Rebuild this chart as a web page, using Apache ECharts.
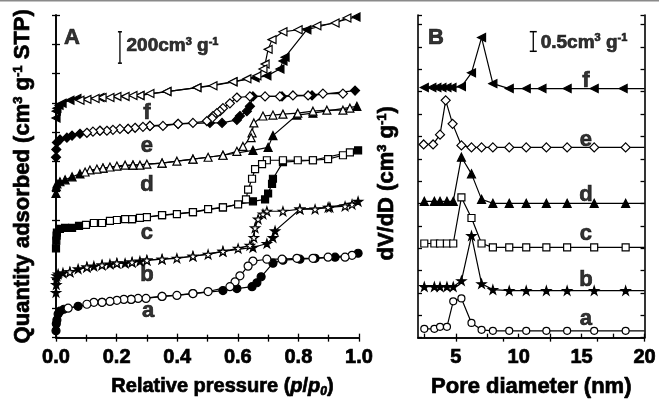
<!DOCTYPE html>
<html>
<head>
<meta charset="utf-8">
<script src="https://cdn.jsdelivr.net/npm/echarts@6/dist/echarts.min.js"></script>
<style>
  html, body { margin: 0; padding: 0; background: #fff; }
  #chart { width: 659px; height: 403px; }
</style>
</head>
<body>
<div id="chart"></div>
<script>
// ---- panel A : N2 isotherms, [p/p0, quantity adsorbed (cm3/g, curves offset)]
const aAds = [[0,44],[0.001,88],[0.003,113],[0.007,150],[0.013,169],[0.026,181],[0.073,200],[0.152,225],[0.248,244],[0.35,263],[0.452,281],[0.551,300],[0.597,313],[0.647,325],[0.663,350],[0.677,388],[0.716,475],[0.749,494],[0.805,500],[0.855,506],[0.921,513],[0.997,538]];
const aDes = [[0.977,525],[0.954,513],[0.898,513],[0.848,506],[0.795,506],[0.746,500],[0.696,500],[0.65,488],[0.634,456],[0.607,394],[0.591,356],[0.574,325],[0.502,294],[0.452,281],[0.399,269],[0.35,263],[0.297,250],[0.271,250],[0.248,244],[0.224,244],[0.201,238],[0.178,231],[0.152,225],[0.125,225],[0.102,213],[0.04,188]];
const bAds = [[0,288],[0.001,338],[0.002,375],[0.003,394],[0.007,406],[0.023,413],[0.046,419],[0.073,438],[0.102,450],[0.125,456],[0.152,463],[0.178,469],[0.201,475],[0.228,475],[0.251,481],[0.277,488],[0.3,494],[0.35,500],[0.452,519],[0.551,550],[0.65,575],[0.696,600],[0.716,638],[0.723,681],[0.805,819],[0.904,831],[0.997,869]];
const bDes = [[0.977,850],[0.954,838],[0.898,831],[0.855,819],[0.805,819],[0.749,806],[0.696,806],[0.683,788],[0.667,756],[0.657,700],[0.653,638],[0.64,588],[0.601,569],[0.551,550],[0.502,531],[0.452,519],[0.399,506],[0.35,500],[0.3,494],[0.251,481],[0.201,475],[0.152,463],[0.102,450],[0.046,419]];
const cAds = [[0,569],[0.001,619],[0.002,650],[0.003,669],[0.013,694],[0.03,700],[0.053,700],[0.076,713],[0.152,731],[0.251,756],[0.35,781],[0.452,800],[0.551,831],[0.65,869],[0.69,881],[0.7,919],[0.713,981],[0.716,1013],[0.749,1119],[0.848,1131],[0.997,1194]];
const cDes = [[0.97,1181],[0.947,1163],[0.898,1138],[0.848,1131],[0.798,1131],[0.749,1131],[0.696,1131],[0.68,1106],[0.657,1075],[0.647,1013],[0.634,944],[0.627,881],[0.601,850],[0.551,831],[0.502,819],[0.452,800],[0.399,788],[0.35,781],[0.3,769],[0.277,763],[0.251,756],[0.228,756],[0.201,750],[0.178,744],[0.152,731],[0.125,731],[0.099,719]];
const dAds = [[0,919],[0.001,963],[0.003,981],[0.013,994],[0.03,1006],[0.053,1025],[0.079,1044],[0.155,1081],[0.254,1100],[0.35,1113],[0.452,1138],[0.551,1163],[0.65,1194],[0.7,1213],[0.716,1288],[0.795,1419],[0.848,1431],[0.993,1475]];
const dDes = [[0.97,1463],[0.947,1450],[0.894,1450],[0.848,1444],[0.798,1431],[0.749,1425],[0.716,1419],[0.683,1413],[0.653,1369],[0.647,1306],[0.644,1275],[0.617,1219],[0.597,1188],[0.551,1163],[0.502,1150],[0.452,1138],[0.399,1125],[0.35,1113],[0.3,1106],[0.277,1100],[0.254,1100],[0.228,1100],[0.201,1094],[0.178,1088],[0.155,1081],[0.135,1075],[0.112,1069],[0.096,1056]];
const eAds = [[0,1150],[0.001,1200],[0.003,1244],[0.013,1263],[0.036,1275],[0.053,1288],[0.079,1300],[0.145,1319],[0.238,1331],[0.31,1350],[0.403,1363],[0.508,1369],[0.548,1369],[0.597,1388],[0.607,1413],[0.63,1444],[0.64,1475],[0.65,1538],[0.746,1538],[0.845,1544],[0.987,1575]];
const eDes = [[0.947,1556],[0.881,1556],[0.832,1544],[0.782,1544],[0.739,1538],[0.69,1538],[0.64,1538],[0.597,1531],[0.574,1494],[0.551,1463],[0.541,1444],[0.531,1431],[0.518,1413],[0.515,1400],[0.498,1381],[0.452,1369],[0.403,1363],[0.353,1350],[0.31,1350],[0.287,1344],[0.261,1338],[0.238,1331],[0.211,1331],[0.188,1325],[0.168,1319],[0.145,1319],[0.122,1313],[0.102,1306]];
const fAds = [[0,1400],[0.001,1444],[0.003,1463],[0.01,1481],[0.02,1494],[0.046,1513],[0.069,1525],[0.145,1531],[0.277,1544],[0.366,1569],[0.465,1594],[0.584,1631],[0.657,1656],[0.696,1669],[0.739,1713],[0.749,1763],[0.756,1788],[0.828,1963],[0.99,2044]];
const fDes = [[0.96,2038],[0.921,2006],[0.861,1988],[0.799,1963],[0.749,1950],[0.713,1900],[0.7,1838],[0.69,1744],[0.683,1713],[0.663,1669],[0.63,1650],[0.584,1631],[0.518,1606],[0.465,1594],[0.366,1569],[0.31,1556],[0.277,1544],[0.254,1544],[0.228,1538],[0.201,1538],[0.178,1531],[0.152,1531],[0.129,1525],[0.102,1519],[0.079,1513]];

// ---- panel B : pore size distributions, dV/dD (cm3/g, curves offset)
const poreD  = [2.5, 3.3, 3.75, 4.3, 4.8, 5.45, 6.25, 7.05, 7.95, 9.25, 10.6, 12.2, 13.85, 16.0, 18.5];
const poreDe = [2.45, 3.2, 3.75, 4.2, 4.75, 5.45, 6.25, 7.05, 7.95, 9.25, 10.6, 12.2, 13.85, 16.0, 18.5];
const poreDf = [2.5, 3.1, 3.5, 3.9, 4.3, 4.7, 5.45, 6.25, 7.05, 7.95, 9.25, 10.6, 11.85, 13.85, 16.0, 18.3];
const psdA = [0.225,0.225,0.275,0.275,0.925,1.0,0.375,0.2,0.175,0.175,0.175,0.175,0.175,0.175,0.175];
const psdB = [1.3,1.3,1.3,1.3,1.3,1.45,2.6,1.375,1.225,1.2,1.2,1.2,1.2,1.2,1.2];
const psdC = [2.4,2.4,2.4,2.4,2.4,3.575,3.05,2.4,2.3,2.3,2.3,2.3,2.3,2.3,2.3];
const psdD = [3.475,3.475,3.475,3.475,3.475,4.6,4.175,3.525,3.425,3.425,3.425,3.425,3.425,3.425,3.425];
const psdE = [4.925,4.925,5.175,6.05,5.45,4.9,4.85,4.85,4.85,4.85,4.85,4.85,4.85,4.85,4.85];
const psdF = [6.375,6.375,6.375,6.375,6.375,6.375,6.4,6.75,7.65,6.475,6.35,6.35,6.35,6.35,6.35,6.35];

const curveNames = ['a', 'b', 'c', 'd', 'e', 'f'];
const labelPosA = [[0.304,169],[0.30,400],[0.30,669],[0.30,975],[0.30,1225],[0.30,1431]];
const labelPosB = [[15.34,0.475],[15.34,1.475],[15.34,2.65],[15.34,3.65],[15.34,5.05],[15.34,6.55]];

const FONT = 'Liberation Sans, Arial, Helvetica, sans-serif';
const STAR = 'path://M50,0 L61,35 L98,35 L68,57 L79,91 L50,70 L21,91 L32,57 L2,35 L39,35 Z';
const LTRI = 'path://M0,50 L100,0 L100,100 Z';
// heavier strokes on text, the original figure is printed very bold
const HEAVY = { textBorderColor: '#000', textBorderWidth: 0.7 };

const myChart = echarts.init(document.getElementById('chart'));

function mkLine(data, xi, yi, symbol, size, filled) {
  return {
    type: 'line', xAxisIndex: xi, yAxisIndex: yi, data: data,
    symbol: symbol, symbolSize: size, symbolKeepAspect: true,
    lineStyle: { color: '#000', width: 1.2 },
    itemStyle: { color: filled ? '#000' : '#fff', borderColor: '#000', borderWidth: 1.2 },
    z: filled ? 2 : 3, animation: false, silent: true
  };
}
function withEnd(xs, ys) {
  // last entry only carries the line to the right frame
  const d = xs.map((x, i) => [x, ys[i]]);
  d.push({ value: [20, ys[ys.length - 1]], symbol: 'none' });
  return d;
}
function textSeries(xi, yi, pts, texts, size) {
  return {
    type: 'scatter', xAxisIndex: xi, yAxisIndex: yi, symbolSize: 1,
    itemStyle: { color: 'rgba(0,0,0,0)' }, silent: true, animation: false, z: 5,
    data: pts.map((p, i) => ({ value: p, label: { formatter: texts[i] } })),
    label: Object.assign({ show: true, position: 'inside', color: '#000', fontFamily: FONT, fontWeight: 'bold', fontSize: size }, HEAVY)
  };
}
function supRich(size) {
  return {
    sup: Object.assign({ fontSize: Math.round(size * 0.6), fontWeight: 'bold', fontFamily: FONT, verticalAlign: 'top', padding: [0, 0, Math.round(size * 0.4), 0] }, HEAVY),
    sub: Object.assign({ fontSize: Math.round(size * 0.6), fontWeight: 'bold', fontFamily: FONT, fontStyle: 'italic', padding: [Math.round(size * 0.5), 0, 0, 0] }, HEAVY),
    it: Object.assign({ fontSize: size, fontWeight: 'bold', fontFamily: FONT, fontStyle: 'italic' }, HEAVY)
  };
}
const axLine = { lineStyle: { color: '#000', width: 1.6 } };
const tickIn = { inside: true, length: 4, lineStyle: { color: '#000', width: 1.3 } };
const tickLabel = Object.assign({ color: '#000', fontFamily: FONT, fontWeight: 'bold', fontSize: 20, margin: 10 }, HEAVY);
function nameStyle(size, pad) {
  return Object.assign({ color: '#000', fontFamily: FONT, fontWeight: 'bold', fontSize: size, rich: supRich(size), padding: pad || 0 }, HEAVY);
}

const option = {
  backgroundColor: '#fff',
  animation: false,
  grid: [
    { left: 56, right: 300, top: 15, bottom: 59 },
    { left: 418, right: 13, top: 15, bottom: 59 }
  ],
  xAxis: [
    { gridIndex: 0, type: 'value', min: 0, max: 1, interval: 0.2, position: 'bottom',
      axisLine: axLine, axisTick: tickIn, minorTick: { show: true, splitNumber: 2, length: 3, lineStyle: { color: '#000', width: 1.3 } },
      splitLine: { show: false }, minorSplitLine: { show: false },
      axisLabel: Object.assign({ formatter: v => v.toFixed(1) }, tickLabel),
      name: 'Relative pressure ({it|p}/{it|p}{sub|0})', nameLocation: 'middle', nameGap: 38,
      nameTextStyle: nameStyle(20, [0, 0, 0, 30]) },
    { gridIndex: 0, type: 'value', min: 0, max: 1, interval: 0.1, position: 'top',
      axisLine: axLine, axisTick: tickIn, axisLabel: { show: false }, splitLine: { show: false } },
    { gridIndex: 1, type: 'value', min: 2, max: 20, position: 'bottom',
      axisLine: axLine, axisTick: Object.assign({ customValues: [2.5, 5, 7.5, 10, 12.5, 15, 17.5, 20] }, tickIn),
      splitLine: { show: false },
      axisLabel: Object.assign({ customValues: [5, 10, 15, 20] }, tickLabel),
      name: 'Pore diameter (nm)', nameLocation: 'middle', nameGap: 38, nameTextStyle: nameStyle(22) },
    { gridIndex: 1, type: 'value', min: 2, max: 20, position: 'top',
      axisLine: axLine, axisTick: Object.assign({ customValues: [5, 8.75, 12.5, 16.25, 20] }, tickIn),
      axisLabel: { show: false }, splitLine: { show: false } }
  ],
  yAxis: [
    { gridIndex: 0, type: 'value', min: 0, max: 2057, interval: 187, position: 'left',
      axisLine: axLine, axisTick: tickIn, axisLabel: { show: false }, splitLine: { show: false },
      name: 'Quantity adsorbed (cm{sup|3} g{sup|-1} STP)', nameLocation: 'middle', nameRotate: 90, nameGap: 22,
      nameTextStyle: nameStyle(22) },
    { gridIndex: 0, type: 'value', min: 0, max: 2057, interval: 187, position: 'right',
      axisLine: axLine, axisTick: tickIn, axisLabel: { show: false }, splitLine: { show: false } },
    { gridIndex: 1, type: 'value', min: 0, max: 8.225, interval: 0.57, position: 'left',
      axisLine: axLine, axisTick: tickIn, axisLabel: { show: false }, splitLine: { show: false },
      name: 'dV/dD (cm{sup|3} g{sup|-1})', nameLocation: 'middle', nameRotate: 90, nameGap: 20,
      nameTextStyle: nameStyle(22, [0, 14, 0, 0]) },
    { gridIndex: 1, type: 'value', min: 0, max: 8.225, interval: 0.57, position: 'right',
      axisLine: axLine, axisTick: tickIn, axisLabel: { show: false }, splitLine: { show: false } }
  ],
  series: [
    mkLine(aAds, 0, 0, 'circle', 8, true),   mkLine(aDes, 0, 0, 'circle', 8, false),
    mkLine(bAds, 0, 0, STAR, 9, true),       mkLine(bDes, 0, 0, STAR, 9, false),
    mkLine(cAds, 0, 0, 'rect', 7, true),     mkLine(cDes, 0, 0, 'rect', 7, false),
    mkLine(dAds, 0, 0, 'triangle', 8, true), mkLine(dDes, 0, 0, 'triangle', 8, false),
    mkLine(eAds, 0, 0, 'diamond', 9, true),  mkLine(eDes, 0, 0, 'diamond', 9, false),
    mkLine(fAds, 0, 0, LTRI, 8, true),       mkLine(fDes, 0, 0, LTRI, 8, false),

    mkLine(withEnd(poreD, psdA), 2, 2, 'circle', 7, false),
    mkLine(withEnd(poreD, psdB), 2, 2, STAR, 9, true),
    mkLine(withEnd(poreD, psdC), 2, 2, 'rect', 7, false),
    mkLine(withEnd(poreD, psdD), 2, 2, 'triangle', 8, true),
    mkLine(withEnd(poreDe, psdE), 2, 2, 'diamond', 9, false),
    mkLine(withEnd(poreDf, psdF), 2, 2, LTRI, 8, true),

    // curve letters
    textSeries(0, 0, labelPosA, curveNames, 22),
    textSeries(2, 2, labelPosB, curveNames, 22),
    // panel letters
    textSeries(0, 0, [[0.053, 1913]], ['A'], 22),
    textSeries(2, 2, [[3.42, 7.65]], ['B'], 22),
    // scale bars
    { type: 'line', xAxisIndex: 0, yAxisIndex: 0, data: [[0.211, 1750], [0.211, 1950]],
      symbol: 'rect', symbolSize: [4, 1.5], lineStyle: { color: '#000', width: 1.3 }, itemStyle: { color: '#000' }, animation: false, silent: true },
    { type: 'line', xAxisIndex: 2, yAxisIndex: 2, data: [[11.16, 7.3], [11.16, 7.8]],
      symbol: 'rect', symbolSize: [7, 1.5], lineStyle: { color: '#000', width: 1.3 }, itemStyle: { color: '#000' }, animation: false, silent: true },
    {
      type: 'scatter', xAxisIndex: 0, yAxisIndex: 0, symbolSize: 1, itemStyle: { color: 'rgba(0,0,0,0)' }, silent: true, animation: false,
      data: [[0.231, 1862]],
      label: Object.assign({ show: true, position: 'right', distance: 0, formatter: '200cm{sup|3} g{sup|-1}', color: '#000', fontFamily: FONT, fontWeight: 'bold', fontSize: 19, rich: supRich(19) }, HEAVY)
    },
    {
      type: 'scatter', xAxisIndex: 2, yAxisIndex: 2, symbolSize: 1, itemStyle: { color: 'rgba(0,0,0,0)' }, silent: true, animation: false,
      data: [[11.71, 7.525]],
      label: Object.assign({ show: true, position: 'right', distance: 0, formatter: '0.5cm{sup|3} g{sup|-1}', color: '#000', fontFamily: FONT, fontWeight: 'bold', fontSize: 19, rich: supRich(19) }, HEAVY)
    }
  ],
  graphic: [
    { type: 'rect', left: 0, top: 0, shape: { width: 659, height: 1.5 }, style: { fill: '#8a8a8a' }, silent: true }
  ]
};
myChart.setOption(option);
window.addEventListener('resize', function () { myChart.resize(); });
</script>
</body>
</html>
